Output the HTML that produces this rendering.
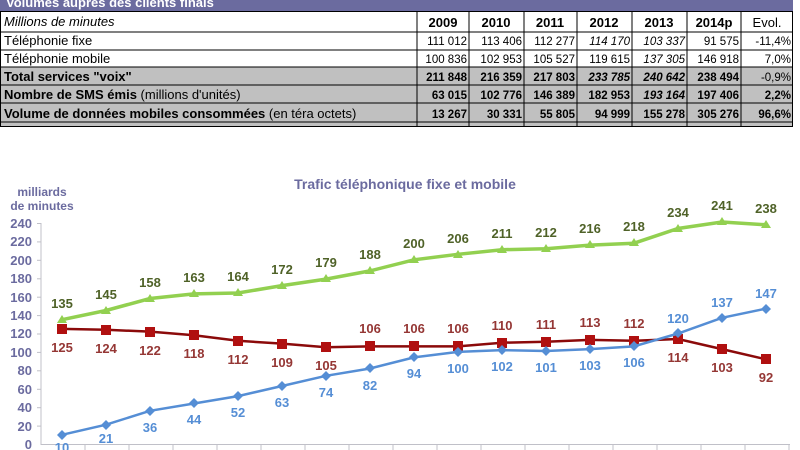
<!DOCTYPE html>
<html><head><meta charset="utf-8"><style>
html,body{margin:0;padding:0;background:#fff;width:800px;height:450px;overflow:hidden}
svg{display:block;font-family:"Liberation Sans",Arial,sans-serif}
</style></head><body>
<svg width="800" height="450" viewBox="0 0 800 450">
<rect x="0" y="0" width="793" height="11" fill="#6b6b9f"/>
<text x="6" y="7" font-size="13" font-weight="bold" fill="#fff">Volumes auprès des clients finals</text>
<rect x="0" y="67" width="793" height="60" fill="#c0c0c0"/>
<g stroke="#000" stroke-width="1" fill="none">
<rect x="0.5" y="11.5" width="792" height="115"/>
<line x1="0" y1="32" x2="793" y2="32"/><line x1="0" y1="50" x2="793" y2="50"/>
<line x1="0" y1="67" x2="793" y2="67"/><line x1="0" y1="85" x2="793" y2="85"/>
<line x1="0" y1="103" x2="793" y2="103"/><line x1="0" y1="122" x2="793" y2="122"/>
<line x1="417" y1="11" x2="417" y2="127"/><line x1="469" y1="11" x2="469" y2="127"/>
<line x1="524" y1="11" x2="524" y2="127"/><line x1="577" y1="11" x2="577" y2="127"/>
<line x1="632" y1="11" x2="632" y2="127"/><line x1="687" y1="11" x2="687" y2="127"/>
<line x1="741" y1="11" x2="741" y2="127"/>
</g>
<g font-size="13" fill="#000">
<text x="4" y="26" font-style="italic">Millions de minutes</text>
<text x="4" y="45">Téléphonie fixe</text>
<text x="4" y="63">Téléphonie mobile</text>
<text x="4" y="81" font-weight="bold">Total services "voix"</text>
<text x="4" y="99"><tspan font-weight="bold">Nombre de SMS émis</tspan> (millions d'unités)</text>
<text x="4" y="118"><tspan font-weight="bold">Volume de données mobiles consommées</tspan> (en téra octets)</text>
</g>
<g font-size="13" font-weight="bold" text-anchor="middle">
<text x="443" y="27">2009</text><text x="496" y="27">2010</text><text x="550" y="27">2011</text>
<text x="604" y="27">2012</text><text x="659" y="27">2013</text><text x="714" y="27">2014p</text>
<text x="767" y="27" font-weight="normal">Evol.</text>
</g>
<g font-size="11.5" text-anchor="end">
<text x="467" y="45">111 012</text><text x="522" y="45">113 406</text><text x="575" y="45">112 277</text><text x="630" y="45" font-style="italic">114 170</text><text x="685" y="45" font-style="italic">103 337</text><text x="739" y="45">91 575</text><text x="791" y="45">-11,4%</text>
<text x="467" y="63">100 836</text><text x="522" y="63">102 953</text><text x="575" y="63">105 527</text><text x="630" y="63">119 615</text><text x="685" y="63" font-style="italic">137 305</text><text x="739" y="63">146 918</text><text x="791" y="63">7,0%</text>
<g font-weight="bold"><text x="467" y="81">211 848</text><text x="522" y="81">216 359</text><text x="575" y="81">217 803</text><text x="630" y="81" font-style="italic">233 785</text><text x="685" y="81" font-style="italic">240 642</text><text x="739" y="81">238 494</text><text x="791" y="81" font-weight="normal">-0,9%</text></g>
<g font-weight="bold"><text x="467" y="99">63 015</text><text x="522" y="99">102 776</text><text x="575" y="99">146 389</text><text x="630" y="99">182 953</text><text x="685" y="99" font-style="italic">193 164</text><text x="739" y="99">197 406</text><text x="791" y="99">2,2%</text></g>
<g font-weight="bold"><text x="467" y="118">13 267</text><text x="522" y="118">30 331</text><text x="575" y="118">55 805</text><text x="630" y="118">94 999</text><text x="685" y="118">155 278</text><text x="739" y="118">305 276</text><text x="791" y="118">96,6%</text></g>
</g>

<text x="405" y="189" font-size="14" font-weight="bold" fill="#6b6b9f" text-anchor="middle">Trafic téléphonique fixe et mobile</text>
<g font-size="12" font-weight="bold" fill="#6b6b9f" text-anchor="middle">
<text x="42" y="196">milliards</text><text x="42" y="210">de minutes</text>
</g>
<g font-size="13" font-weight="bold" fill="#6b6b9f" text-anchor="end">
<text x="32" y="449">0</text><text x="32" y="431">20</text><text x="32" y="412">40</text><text x="32" y="394">60</text><text x="32" y="375">80</text><text x="32" y="357">100</text><text x="32" y="338">120</text><text x="32" y="320">140</text><text x="32" y="302">160</text><text x="32" y="283">180</text><text x="32" y="265">200</text><text x="32" y="246">220</text><text x="32" y="228">240</text>
</g>
<g stroke="#c0c0c8" stroke-width="1">
<line x1="41" y1="223" x2="41" y2="445"/><line x1="41" y1="444.5" x2="790" y2="444.5"/>
<line x1="37" y1="223.5" x2="41" y2="223.5"/><line x1="37" y1="241.9" x2="41" y2="241.9"/><line x1="37" y1="260.3" x2="41" y2="260.3"/><line x1="37" y1="278.8" x2="41" y2="278.8"/><line x1="37" y1="297.2" x2="41" y2="297.2"/><line x1="37" y1="315.6" x2="41" y2="315.6"/><line x1="37" y1="334" x2="41" y2="334"/><line x1="37" y1="352.4" x2="41" y2="352.4"/><line x1="37" y1="370.8" x2="41" y2="370.8"/><line x1="37" y1="389.3" x2="41" y2="389.3"/><line x1="37" y1="407.7" x2="41" y2="407.7"/><line x1="37" y1="426.1" x2="41" y2="426.1"/>
<line x1="85" y1="444" x2="85" y2="450"/><line x1="129" y1="444" x2="129" y2="450"/><line x1="173" y1="444" x2="173" y2="450"/><line x1="217" y1="444" x2="217" y2="450"/><line x1="261" y1="444" x2="261" y2="450"/><line x1="305" y1="444" x2="305" y2="450"/><line x1="349" y1="444" x2="349" y2="450"/><line x1="393" y1="444" x2="393" y2="450"/><line x1="437" y1="444" x2="437" y2="450"/><line x1="481" y1="444" x2="481" y2="450"/><line x1="525" y1="444" x2="525" y2="450"/><line x1="569" y1="444" x2="569" y2="450"/><line x1="613" y1="444" x2="613" y2="450"/><line x1="657" y1="444" x2="657" y2="450"/><line x1="701" y1="444" x2="701" y2="450"/><line x1="745" y1="444" x2="745" y2="450"/><line x1="789" y1="444" x2="789" y2="450"/>
</g>

<polyline fill="none" stroke="#92d050" stroke-width="3.5" points="62,319.7 106,310.5 150,298.5 194,293.9 238,293 282,285.6 326,279.1 370,270.9 414,259.8 458,254.3 502,249.7 546,248.7 590,245.1 634,243.2 678,228.5 722,222 766,224.8"/>
<g fill="#92d050">
<path d="M62,315l5,8h-10z"/><path d="M106,306l5,8h-10z"/><path d="M150,294l5,8h-10z"/><path d="M194,289l5,8h-10z"/><path d="M238,288l5,8h-10z"/><path d="M282,281l5,8h-10z"/><path d="M326,274l5,8h-10z"/><path d="M370,266l5,8h-10z"/><path d="M414,255l5,8h-10z"/><path d="M458,250l5,8h-10z"/><path d="M502,245l5,8h-10z"/><path d="M546,244l5,8h-10z"/><path d="M590,240l5,8h-10z"/><path d="M634,238l5,8h-10z"/><path d="M678,224l5,8h-10z"/><path d="M722,217l5,8h-10z"/><path d="M766,220l5,8h-10z"/>
</g>
<g font-size="13" font-weight="bold" fill="#4f6228" text-anchor="middle">
<text x="62" y="308">135</text><text x="106" y="299">145</text><text x="150" y="287">158</text><text x="194" y="282">163</text><text x="238" y="281">164</text><text x="282" y="274">172</text><text x="326" y="267">179</text><text x="370" y="259">188</text><text x="414" y="248">200</text><text x="458" y="243">206</text><text x="502" y="238">211</text><text x="546" y="237">212</text><text x="590" y="233">216</text><text x="634" y="231">218</text><text x="678" y="217">234</text><text x="722" y="210">241</text><text x="766" y="213">238</text>
</g>

<polyline fill="none" stroke="#8b0a0a" stroke-width="2.5" points="62,328.9 106,329.8 150,331.6 194,335.3 238,340.8 282,343.6 326,347.3 370,346.4 414,346.4 458,346.4 502,342.7 546,341.8 590,339.9 634,340.8 678,339 722,349.1 766,359.3"/>
<g fill="#b01010">
<rect x="57" y="324" width="10" height="10"/><rect x="101" y="325" width="10" height="10"/><rect x="145" y="327" width="10" height="10"/><rect x="189" y="330" width="10" height="10"/><rect x="233" y="336" width="10" height="10"/><rect x="277" y="339" width="10" height="10"/><rect x="321" y="342" width="10" height="10"/><rect x="365" y="341" width="10" height="10"/><rect x="409" y="341" width="10" height="10"/><rect x="453" y="341" width="10" height="10"/><rect x="497" y="338" width="10" height="10"/><rect x="541" y="337" width="10" height="10"/><rect x="585" y="335" width="10" height="10"/><rect x="629" y="336" width="10" height="10"/><rect x="673" y="334" width="10" height="10"/><rect x="717" y="344" width="10" height="10"/><rect x="761" y="354" width="10" height="10"/>
</g>
<g font-size="13" font-weight="bold" fill="#953735" text-anchor="middle">
<text x="62" y="352">125</text><text x="106" y="353">124</text><text x="150" y="355">122</text><text x="194" y="358">118</text><text x="238" y="364">112</text><text x="282" y="367">109</text><text x="326" y="370">105</text><text x="370" y="333">106</text><text x="414" y="333">106</text><text x="458" y="333">106</text><text x="502" y="330">110</text><text x="546" y="329">111</text><text x="590" y="327">113</text><text x="634" y="328">112</text><text x="678" y="362">114</text><text x="722" y="372">103</text><text x="766" y="382">92</text>
</g>

<polyline fill="none" stroke="#558ed5" stroke-width="2.5" points="62,434.8 106,424.7 150,410.8 194,403.5 238,396.1 282,386 326,375.8 370,368.5 414,357.4 458,351.9 502,350.1 546,351 590,349.1 634,346.4 678,333.5 722,317.8 766,308.6"/>
<g fill="#558ed5">
<path d="M62,430l5,5l-5,5l-5,-5z"/><path d="M106,420l5,5l-5,5l-5,-5z"/><path d="M150,406l5,5l-5,5l-5,-5z"/><path d="M194,398l5,5l-5,5l-5,-5z"/><path d="M238,391l5,5l-5,5l-5,-5z"/><path d="M282,381l5,5l-5,5l-5,-5z"/><path d="M326,371l5,5l-5,5l-5,-5z"/><path d="M370,363l5,5l-5,5l-5,-5z"/><path d="M414,352l5,5l-5,5l-5,-5z"/><path d="M458,347l5,5l-5,5l-5,-5z"/><path d="M502,345l5,5l-5,5l-5,-5z"/><path d="M546,346l5,5l-5,5l-5,-5z"/><path d="M590,344l5,5l-5,5l-5,-5z"/><path d="M634,341l5,5l-5,5l-5,-5z"/><path d="M678,328l5,5l-5,5l-5,-5z"/><path d="M722,313l5,5l-5,5l-5,-5z"/><path d="M766,304l5,5l-5,5l-5,-5z"/>
</g>
<g font-size="13" font-weight="bold" fill="#558ed5" text-anchor="middle">
<text x="62" y="452">10</text><text x="106" y="443">21</text><text x="150" y="432">36</text><text x="194" y="424">44</text><text x="238" y="417">52</text><text x="282" y="407">63</text><text x="326" y="397">74</text><text x="370" y="390">82</text><text x="414" y="378">94</text><text x="458" y="373">100</text><text x="502" y="371">102</text><text x="546" y="372">101</text><text x="590" y="370">103</text><text x="634" y="367">106</text><text x="678" y="323">120</text><text x="722" y="307">137</text><text x="766" y="298">147</text>
</g>
</svg>
</body></html>
